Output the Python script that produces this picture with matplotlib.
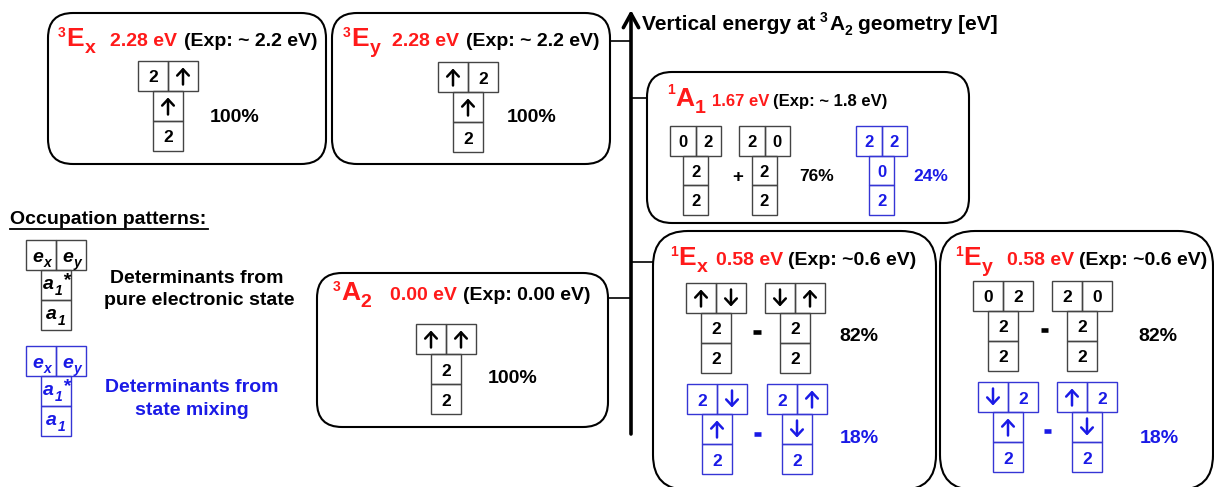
import matplotlib
matplotlib.use("Agg")
import matplotlib.pyplot as plt
from matplotlib.patches import FancyBboxPatch, Rectangle

FONT = "Liberation Sans"
RED = "#ff1a1a"
BLUE = "#1a1ae6"
BLACK = "black"

# state labels: (multiplicity, symmetry letter, subscript)
state_names = [("3", "E", "x"), ("3", "E", "y"), ("3", "A", "2"),
               ("1", "A", "1"), ("1", "E", "x"), ("1", "E", "y")]
calc_ev = [2.28, 2.28, 0.00, 1.67, 0.58, 0.58]
exp_ev = ["~ 2.2", "~ 2.2", "0.00", "~ 1.8", "~0.6", "~0.6"]

# occupations (e_x, e_y, a1*, a1); u = spin up, d = spin down
dets_3Ex = [("2", "u", "u", "2")]
dets_3Ey = [("u", "2", "u", "2")]
dets_3A2 = [("u", "u", "2", "2")]
dets_1A1 = [("0", "2", "2", "2"), ("2", "0", "2", "2")]
mix_1A1 = [("2", "2", "0", "2")]
dets_1Ex = [("u", "d", "2", "2"), ("d", "u", "2", "2")]
mix_1Ex = [("2", "d", "u", "2"), ("2", "u", "d", "2")]
dets_1Ey = [("0", "2", "2", "2"), ("2", "0", "2", "2")]
mix_1Ey = [("d", "2", "u", "2"), ("u", "2", "d", "2")]

pure_weight = [100, 100, 100, 76, 82, 82]
mix_weight = [None, None, None, 24, 18, 18]

fig = plt.figure(figsize=(12.14, 4.87), dpi=100)
ax = fig.add_axes([0, 0, 1, 1])
ax.set_xlim(0, 1214)
ax.set_ylim(487, 0)
ax.axis("off")
renderer = fig.canvas.get_renderer()


def chain(x, y, parts, color, style="normal"):
    # place text pieces one after another (sup/sub scripts via dy, extra gap)
    for part in parts:
        s, size, dy = part[:3]
        gap = part[3] if len(part) > 3 else 0
        t = ax.text(x + gap, y + dy, s, fontsize=size, color=color, fontweight="bold",
                    fontstyle=style, family=FONT, ha="left", va="baseline")
        x = t.get_window_extent(renderer).x1 + 0.5
    return x


def label(x, y, txt, size=14, color=BLACK, ha="left"):
    ax.text(x, y, txt, fontsize=size, color=color, fontweight="bold",
            family=FONT, ha=ha, va="baseline")


def dash(x0, x1, y, color=BLACK):
    ax.plot([x0, x1], [y, y], color=color, lw=3.3, solid_capstyle="butt")


def draw_det(x0, y0, occ, color, cw=30, ch=30, size=12.5):
    edge = "#444444" if color == BLACK else "#3535d5"
    cells = [(x0, y0), (x0 + cw, y0), (x0 + cw / 2, y0 + ch), (x0 + cw / 2, y0 + 2 * ch)]
    for (cx, cy), s in zip(cells, occ):
        ax.add_patch(Rectangle((cx, cy), cw, ch, fill=False, ec=edge, lw=1.0))
        xc, yc = cx + cw / 2, cy + ch / 2
        if s in ("u", "d"):
            top, bot = yc - 8.5, yc + 8.5
            tip, tail = (top, bot) if s == "u" else (bot, top)
            ax.annotate("", xy=(xc, tip), xytext=(xc, tail),
                        arrowprops=dict(arrowstyle="->,head_length=0.45,head_width=0.42",
                                        lw=1.8, color=color, shrinkA=0, shrinkB=0))
        else:
            ax.text(xc, yc + 6.5, s, fontsize=size, color=color, fontweight="bold",
                    family=FONT, ha="center", va="baseline")


# rounded state boxes (x, y, w, h, corner radius)
boxes = [(48, 13, 278, 151, 25), (332, 13, 278, 151, 25), (317, 273, 291, 154, 25),
         (647, 72, 322, 151, 25), (653, 231, 283, 259, 35), (940, 231, 273, 259, 35)]
for x, y, w, h, r in boxes:
    ax.add_patch(FancyBboxPatch((x, y), w, h, boxstyle=f"round,pad=0,rounding_size={r}",
                                fc="white", ec=BLACK, lw=1.5))

# energy axis with connectors to the boxes
ax.annotate("", xy=(631, 10), xytext=(631, 434),
            arrowprops=dict(arrowstyle="->,head_length=1.0,head_width=0.55",
                            lw=2.6, color=BLACK, shrinkA=0, shrinkB=0))
for x0, yc in [(610, 41), (647, 98), (653, 262), (608, 298)]:
    ax.plot([x0, 631], [yc, yc], color=BLACK, lw=1.2)

chain(642, 30, [("Vertical energy at", 15, 0), ("3", 10, -8, 4), ("A", 15, 0, 1),
                ("2", 10, 5), ("geometry [eV]", 15, 0, 5)], BLACK)

# header rows: label start, energy x, exp x, baseline, text size
header_pos = [(58, 110, 184, 46, 14), (343, 392, 466, 46, 14), (333, 390, 463, 300, 14),
              (667, 712, 773, 106, 12), (670, 716, 788, 265, 14), (955, 1007, 1079, 265, 14)]
for (mult, sym, sub), ev, ex, (xl, xe, xx, yb, fs) in zip(state_names, calc_ev, exp_ev, header_pos):
    sup_dy = -12 if mult == "1" and sym == "A" else -9
    chain(xl, yb, [(mult, 10, sup_dy), (sym, 19, 0), (sub, 14, 7)], RED)
    label(xe, yb, f"{ev:.2f} eV", size=fs, color=RED)
    label(xx, yb, f"(Exp: {ex} eV)", size=fs)

# determinants: top-left corner of top row, cell size
draw_det(138, 61, dets_3Ex[0], BLACK)
draw_det(438, 62, dets_3Ey[0], BLACK)
draw_det(416, 324, dets_3A2[0], BLACK)
for occ, x0 in zip(dets_1A1, [670, 739]):
    draw_det(x0, 126, occ, BLACK, cw=25.5, ch=29.5, size=12)
draw_det(856, 126, mix_1A1[0], BLUE, cw=25.5, ch=29.5, size=12)
for occ, x0 in zip(dets_1Ex, [686, 765]):
    draw_det(x0, 283, occ, BLACK)
for occ, x0 in zip(mix_1Ex, [687, 767]):
    draw_det(x0, 384, occ, BLUE)
for occ, x0 in zip(dets_1Ey, [973, 1052]):
    draw_det(x0, 281, occ, BLACK)
for occ, x0 in zip(mix_1Ey, [978, 1057]):
    draw_det(x0, 382, occ, BLUE)

# combination signs
label(732, 182, "+", size=13.5)
dash(753, 761, 331.5)
dash(754, 761, 433.5, BLUE)
dash(1041, 1048, 330)
dash(1044, 1051, 430.5, BLUE)

# weights
pure_pos = [(210, 122, 14), (507, 122, 14), (488, 383, 14), (799, 181, 12.5),
            (839, 341, 14), (1138, 341, 14)]
mix_pos = [None, None, None, (913, 181, 12.5), (840, 443, 14), (1140, 443, 14)]
for w, (x, y, fs) in zip(pure_weight, pure_pos):
    label(x, y, f"{w}%", size=fs)
for w, p in zip(mix_weight, mix_pos):
    if w is not None:
        label(p[0], p[1], f"{w}%", size=p[2], color=BLUE)

# occupation pattern legend
label(10, 224, "Occupation patterns:", size=14)
ax.plot([10, 208], [228.5, 228.5], color=BLACK, lw=1.3)
for dy, color in [(0, BLACK), (106, BLUE)]:
    edge = "#444444" if color == BLACK else "#3535d5"
    for cx, cy in [(26, 240), (56, 240), (41, 270), (41, 300)]:
        ax.add_patch(Rectangle((cx, cy + dy), 30, 30, fill=False, ec=edge, lw=1.0))
    chain(32, 262 + dy, [("e", 14, 0), ("x", 10, 5)], color, "italic")
    chain(62, 262 + dy, [("e", 14, 0), ("y", 10, 5)], color, "italic")
    chain(43, 289 + dy, [("a", 14, 0), ("1", 10, 6), ("*", 14, -4)], color, "italic")
    chain(46, 319 + dy, [("a", 14, 0), ("1", 10, 6)], color, "italic")

label(197, 283, "Determinants from", size=14, ha="center")
label(199, 305, "pure electronic state", size=14, ha="center")
label(192, 392, "Determinants from", size=14, color=BLUE, ha="center")
label(192, 415, "state mixing", size=14, color=BLUE, ha="center")

fig.savefig("out.png", dpi=100)
